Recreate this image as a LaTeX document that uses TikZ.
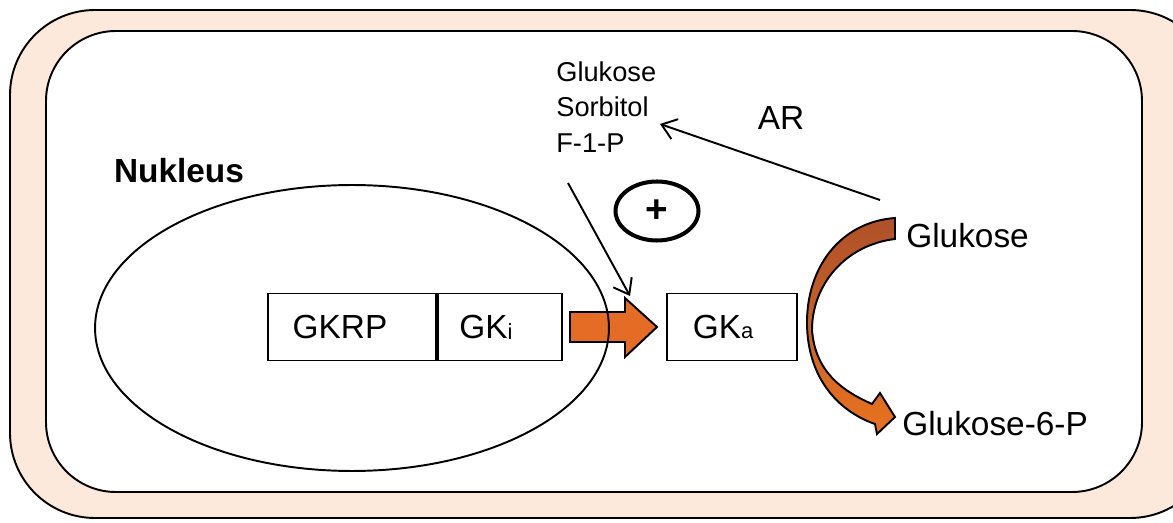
\documentclass[tikz,border=0pt]{standalone}
\usepackage{fontspec}
\setmainfont{Liberation Sans}
\usetikzlibrary{arrows.meta,shapes.geometric}
\definecolor{cellfill}{HTML}{FCE9DC}
\definecolor{blockorange}{HTML}{E46C24}
\definecolor{curvetop}{HTML}{AE5029}
\definecolor{curvebot}{HTML}{E8731F}
\tikzset{
  thin line/.style={line width=1.1pt},
  box/.style={draw, thin line, fill=white, minimum height=1.34cm, inner sep=0pt,
              font=\fontsize{19}{23}\selectfont},
  lbl/.style={inner sep=0pt, font=\fontsize{19}{23}\selectfont},
  barb/.style={-{Straight Barb[length=0.28cm,width=0.42cm,line width=1.1pt]}, thin line},
}
\newcommand{\subsc}[1]{\raisebox{-0.5pt}{\fontsize{12.5}{14}\selectfont #1}}
\begin{document}
\begin{tikzpicture}[x=0.02cm,y=-0.02cm]
\useasboundingbox (0,0) rectangle (1173,523);
\clip (0,0) rectangle (1173,523);
% cell
\draw[thin line, fill=cellfill, rounded corners=1.7cm] (10,10) rectangle (1215,518);
\draw[thin line, fill=white, rounded corners=1.4cm] (46,31) rectangle (1142,492);

% labels
\node[lbl, font=\fontsize{19}{23}\selectfont\bfseries] (nuk) at (179,171) {Nukleus};

% block arrow GKi -> GKa
\draw[thin line, fill=blockorange]
  (570,312) -- (625,312) -- (625,298) -- (657,327) -- (625,357) -- (625,342) -- (570,342) -- cycle;

% nucleus ellipse
\node[draw, thin line, ellipse, minimum width=10.28cm, minimum height=5.72cm, inner sep=0pt] (nucleus) at (352,328) {};

% boxes
\node[box, minimum width=3.36cm] (gkrp) at (352,327) {GKRP\kern0.48cm};
\node[box, minimum width=2.48cm, anchor=west] (gki) at (gkrp.east) {GK\subsc{i}\kern0.56cm};
\node[box, minimum width=2.6cm] (gka) at (732,327) {GK\subsc{a}\kern0.36cm};

% effectors
\node[inner sep=0pt, anchor=west, align=left, font=\fontsize{15.5}{20.4}\selectfont] (eff) at (556,107)
  {Glukose\\Sorbitol\\F-1-P};
\node[lbl] (ar) at (781,118) {AR};
\node[lbl, anchor=west] (glc) at (906,236) {Glukose};
\node[lbl, anchor=west] (g6p) at (902,424) {Glukose-6-P};

% plus circle
\node[draw, ellipse, line width=2.3pt, minimum width=1.66cm, minimum height=1.18cm, inner sep=0pt,
      font=\fontsize{22}{24}\selectfont\bfseries] (plus) at (657,211) {+};

% thin arrows
\coordinate (effend) at (568,183);
\coordinate (gkatop) at (630,296);
\draw[barb] (effend) -- (gkatop);
\coordinate (arstart) at (880,200);
\coordinate (arend) at (660,124);
\draw[barb] (arstart) -- (arend);

% curved arrow
\shade[top color=curvetop, bottom color=curvebot, draw=black, thin line]
  (895,218) .. controls (840,222) and (806,268) .. (807,325)
  .. controls (808,375) and (835,410) .. (875,424)
  -- (877,434) -- (895,417) -- (880,393) -- (872,404)
  .. controls (840,390) and (815,370) .. (812,330)
  .. controls (812,285) and (845,245) .. (895,239) -- cycle;
\end{tikzpicture}
\end{document}
